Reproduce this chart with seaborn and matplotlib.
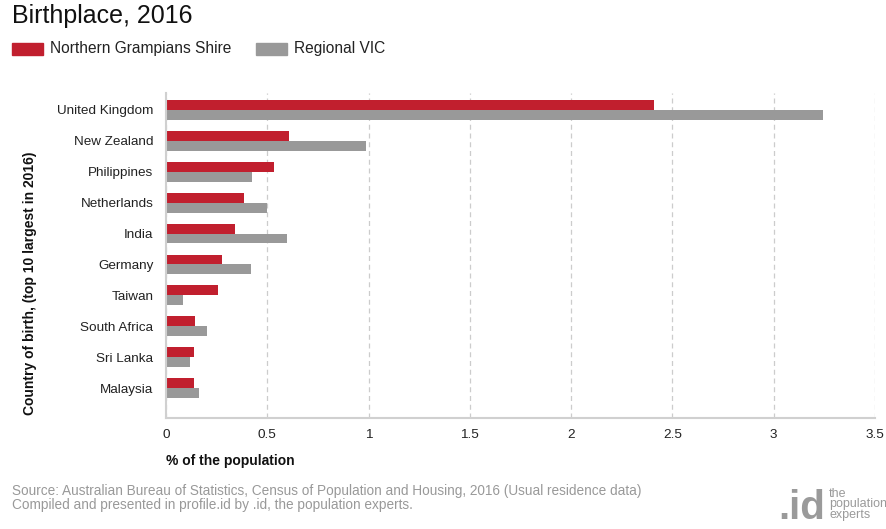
import matplotlib
matplotlib.use("Agg")
import matplotlib.pyplot as plt
import seaborn as sns
import pandas as pd
from matplotlib.patches import Rectangle

countries = ["United Kingdom", "New Zealand", "Philippines", "Netherlands", "India",
             "Germany", "Taiwan", "South Africa", "Sri Lanka", "Malaysia"]
northern_grampians = [2.41, 0.607, 0.533, 0.383, 0.341, 0.274, 0.257, 0.145, 0.139, 0.139]
regional_vic = [3.245, 0.985, 0.424, 0.497, 0.597, 0.418, 0.084, 0.204, 0.120, 0.163]
series_names = ["Northern Grampians Shire", "Regional VIC"]
colors = ["#C11F2E", "#999999"]
x_ticks = [0, 0.5, 1, 1.5, 2, 2.5, 3, 3.5]
x_ticklabels = ["0", "0.5", "1", "1.5", "2", "2.5", "3", "3.5"]

df = pd.DataFrame({
    "country": countries * 2,
    "value": northern_grampians + regional_vic,
    "series": [series_names[0]] * len(countries) + [series_names[1]] * len(countries),
})

sns.set_theme(style="white")
plt.rcParams["font.family"] = ["Liberation Sans", "DejaVu Sans"]

fig = plt.figure(figsize=(8.86, 5.29), dpi=100)
ax = fig.add_axes([166 / 886, 1 - 418 / 529, (875 - 166) / 886, (418 - 93) / 529])

sns.barplot(data=df, y="country", x="value", hue="series", order=countries,
            hue_order=series_names, palette=colors, orient="h", width=0.64,
            saturation=1, ax=ax, legend=False, edgecolor="none")

ax.set_xlim(0, 3.5)
ax.set_ylim(9.97, -0.55)
ax.set_xticks(x_ticks)
ax.set_xticklabels(x_ticklabels)
ax.xaxis.grid(True, color="#cccccc", linestyle=(0, (4, 3)), linewidth=0.9)
ax.set_axisbelow(True)
for s in ["top", "right"]:
    ax.spines[s].set_visible(False)
for s in ["left", "bottom"]:
    ax.spines[s].set_color("#d0d0d0")
    ax.spines[s].set_linewidth(1.5)
ax.tick_params(axis="y", length=6, color="#cccccc", width=0.8, labelsize=9.7, labelcolor="#222222", pad=3)
ax.tick_params(axis="x", length=0, labelsize=9.7, labelcolor="#222222", pad=8)
ax.set_ylabel("")
ax.set_xlabel("")

fig.text(166 / 886, 1 - 461 / 529, "% of the population", fontsize=10, fontweight="bold",
         ha="left", va="center", color="#111111")
fig.text(30 / 886, 1 - 283 / 529, "Country of birth, (top 10 largest in 2016)", fontsize=10,
         fontweight="bold", rotation=90, ha="center", va="center", color="#111111")

fig.text(12 / 886, 1 - 16 / 529, "Birthplace, 2016", fontsize=18, ha="left", va="center", color="#111111")

# legend
fig.patches.append(Rectangle((12 / 886, 1 - 55 / 529), 31 / 886, 12 / 529,
                             transform=fig.transFigure, color=colors[0]))
fig.text(50 / 886, 1 - 48.5 / 529, series_names[0], fontsize=11.2, ha="left", va="center", color="#222222")
fig.patches.append(Rectangle((256 / 886, 1 - 55 / 529), 31 / 886, 12 / 529,
                             transform=fig.transFigure, color=colors[1]))
fig.text(294 / 886, 1 - 48.5 / 529, series_names[1], fontsize=11.2, ha="left", va="center", color="#222222")

fig.text(12 / 886, 1 - 491 / 529, "Source: Australian Bureau of Statistics, Census of Population and Housing, 2016 (Usual residence data)",
         fontsize=9.8, ha="left", va="center", color="#999999")
fig.text(12 / 886, 1 - 505 / 529, "Compiled and presented in profile.id by .id, the population experts.",
         fontsize=9.8, ha="left", va="center", color="#999999")

fig.text(825 / 886, 1 - 508 / 529, ".id", fontsize=29, fontweight="bold", ha="right", va="center", color="#9a9a9a")
for i, word in enumerate(["the", "population", "experts"]):
    fig.text(829 / 886, 1 - (494 + 10.5 * i) / 529, word, fontsize=9, ha="left", va="center", color="#9a9a9a")

fig.savefig("out.png", dpi=100)
